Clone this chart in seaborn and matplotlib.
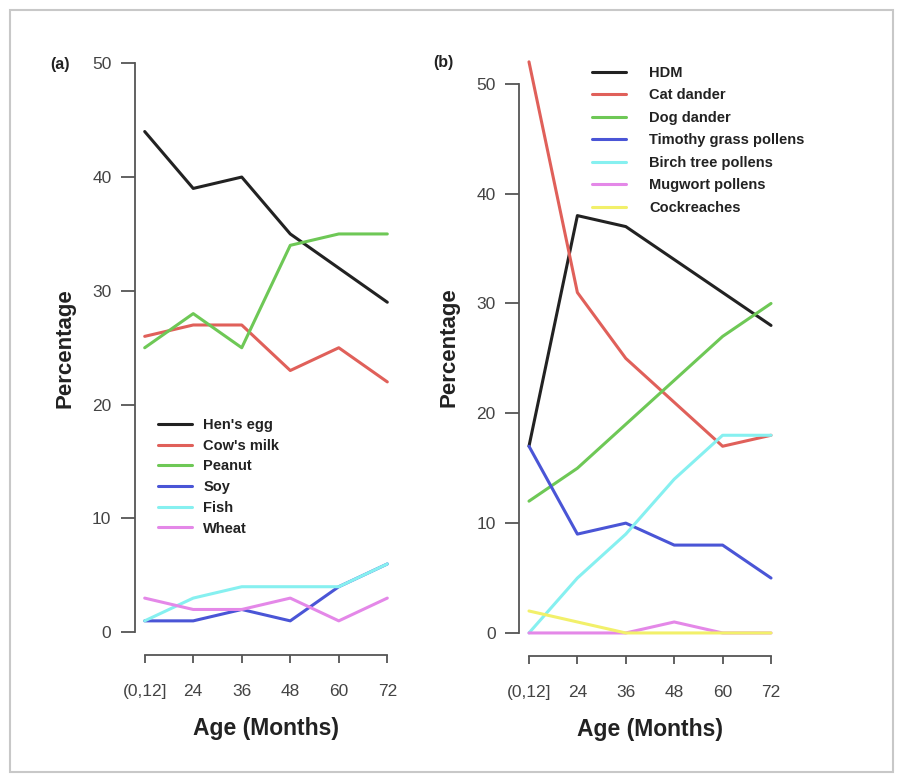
import numpy as np
import pandas as pd
import matplotlib
matplotlib.use('Agg')
import matplotlib.pyplot as plt
import seaborn as sns
from matplotlib.patches import Rectangle

age_labels = ['(0,12]', '24', '36', '48', '60', '72']

food_names = ["Hen's egg", "Cow's milk", 'Peanut', 'Soy', 'Fish', 'Wheat']
hens_egg = [44, 39, 40, 35, 32, 29]
cows_milk = [26, 27, 27, 23, 25, 22]
peanut = [25, 28, 25, 34, 35, 35]
soy = [1, 1, 2, 1, 4, 6]
fish = [1, 3, 4, 4, 4, 6]
wheat = [3, 2, 2, 3, 1, 3]

aero_names = ['HDM', 'Cat dander', 'Dog dander', 'Timothy grass pollens',
              'Birch tree pollens', 'Mugwort pollens', 'Cockreaches']
hdm = [17, 38, 37, 34, 31, 28]
cat_dander = [52, 31, 25, 21, 17, 18]
dog_dander = [12, 15, 19, 23, 27, 30]
timothy = [17, 9, 10, 8, 8, 5]
birch = [0, 5, 9, 14, 18, 18]
mugwort = [0, 0, 0, 1, 0, 0]
cockroaches = [2, 1, 0, 0, 0, 0]

colors = ['#222222', '#E0605A', '#6EC856', '#4A55D6', '#86F0F0', '#E488E8', '#F2F06A']

sns.set_theme(style='white')
plt.rcParams['font.family'] = ['Liberation Sans', 'DejaVu Sans']

fig = plt.figure(figsize=(8.98, 7.76), dpi=100)
W, H = 898, 776

def px_axes(left, top, right, bottom):
    return fig.add_axes([left / W, 1 - bottom / H, (right - left) / W, (bottom - top) / H])

ax_a = px_axes(135, 40.5, 397, 655)
ax_b = px_axes(519.3, 39, 780.7, 655.8)

pos = np.arange(len(age_labels))


def draw_panel(ax, names, series, ylim, legend_anchor, textpad, spacing):
    for name, vals, col in zip(names, series, colors):
        sns.lineplot(x=pos, y=vals, ax=ax, color=col, linewidth=2.2, label=name)
    ax.set_xlim(-0.2, 5.2)
    ax.set_ylim(*ylim)
    ax.set_xticks(pos)
    ax.set_xticklabels(age_labels)
    ax.set_yticks([0, 10, 20, 30, 40, 50])
    for s in ['top', 'right']:
        ax.spines[s].set_visible(False)
    ax.spines['left'].set_bounds(0, 50)
    ax.spines['bottom'].set_bounds(0, 5)
    for s in ['left', 'bottom']:
        ax.spines[s].set_color('#555555')
        ax.spines[s].set_linewidth(1.3)
    ax.tick_params(axis='y', length=10, width=1.3, color='#555555', pad=7,
                   labelsize=12.5, labelcolor='#444444', left=True)
    ax.tick_params(axis='x', length=6, width=1.3, color='#555555', pad=15,
                   labelsize=12.5, labelcolor='#444444', bottom=True)
    ax.set_xlabel('Age (Months)', fontsize=16.5, fontweight='bold', color='#222222', labelpad=13)
    ax.set_ylabel('Percentage', fontsize=16, fontweight='bold', color='#222222', labelpad=12)
    ax.grid(False)
    leg = ax.legend(loc='upper left', bbox_to_anchor=(legend_anchor[0] / W, 1 - legend_anchor[1] / H),
                    bbox_transform=fig.transFigure, frameon=False, borderpad=0, borderaxespad=0,
                    handlelength=2.3, handletextpad=textpad, labelspacing=spacing,
                    prop={'weight': 'bold', 'size': 10.5})
    for t in leg.get_texts():
        t.set_color('#222222')


draw_panel(ax_a, food_names, [hens_egg, cows_milk, peanut, soy, fish, wheat],
           (-2, 52), (158, 418), 0.8, 0.46)
draw_panel(ax_b, aero_names, [hdm, cat_dander, dog_dander, timothy, birch, mugwort, cockroaches],
           (-2.08, 54.08), (592, 66), 1.6, 0.58)

fig.text(50 / W, 1 - 65 / H, '(a)', fontsize=11.5, fontweight='bold', color='#222222', va='center')
fig.text(433 / W, 1 - 63 / H, '(b)', fontsize=11.5, fontweight='bold', color='#222222', va='center')

fig.patches.append(Rectangle((10 / W, 4 / H), 883 / W, 762 / H, transform=fig.transFigure,
                             fill=False, edgecolor='#c8c8c8', linewidth=1.5))

fig.savefig('out.png', dpi=100)
